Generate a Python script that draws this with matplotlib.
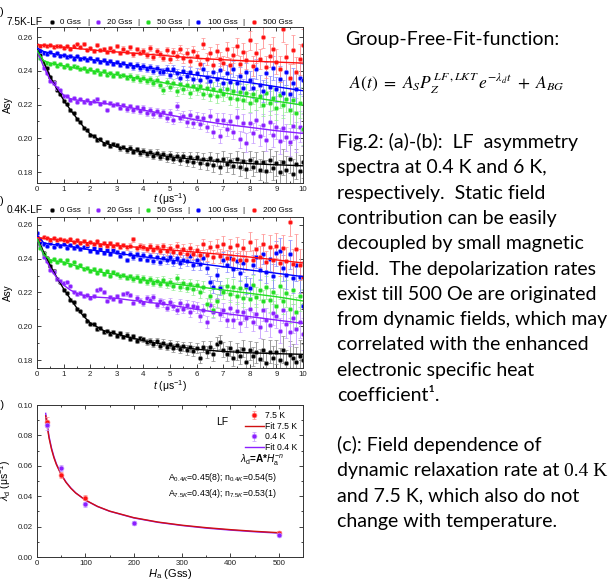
import numpy as np
import matplotlib
matplotlib.use('Agg')
import matplotlib.pyplot as plt
from matplotlib.lines import Line2D
from matplotlib.ticker import MultipleLocator

plt.rcParams['font.family'] = ['Liberation Sans', 'DejaVu Sans']
plt.rcParams['mathtext.fontset'] = 'custom'
plt.rcParams['mathtext.rm'] = 'Liberation Sans'
plt.rcParams['mathtext.it'] = 'Liberation Sans:italic'
plt.rcParams['mathtext.bf'] = 'Liberation Sans:bold'

# ---------------- data ----------------
t = np.arange(81) * 0.125          # time bins, us
t_fit = [0, .25, .5, .75, 1, 1.25, 1.5, 1.75, 2, 2.5, 3, 3.5, 4, 5, 6, 7, 8, 9, 10]

fields_a = ['0 Gss', '20 Gss', '50 Gss', '100 Gss', '500 Gss']
fields_b = ['0 Gss', '20 Gss', '50 Gss', '100 Gss', '200 Gss']

# (a) 7.5 K
a_0 = [.2528, .2495, .2448, .2415, .2362, .2334, .2287, .2263,
       .2221, .2205, .2166, .2150, .2112, .2098, .2061, .2052,
       .2018, .2016, .1988, .1993, .1969, .1979, .1955, .1965,
       .1958, .1940, .1950, .1928, .1945, .1921, .1934, .1912,
       .1925, .1906, .1920, .1898, .1915, .1890, .1905, .1884,
       .1901, .1876, .1895, .1870, .1893, .1866, .1890, .1858,
       .1888, .1852, .1879, .1848, .1885, .1840, .1872, .1830,
       .1880, .1845, .1868, .1835, .1875, .1828, .1865, .1818,
       .1870, .1832, .1858, .1815, .1862, .1805, .1869, .1822,
       .1852, .1798, .1860, .1815, .1876, .1790, .1845, .1808,
       .1860]
a_20 = [.2518, .2475, .2418, .2390, .2340, .2326, .2296, .2285,
        .2248, .2250, .2225, .2238, .2218, .2231, .2214, .2226,
        .2210, .2222, .2232, .2205, .2215, .2170, .2208, .2195,
        .2205, .2180, .2196, .2172, .2190, .2165, .2185, .2160,
        .2178, .2150, .2170, .2142, .2162, .2138, .2155, .2118,
        .2148, .2110, .2190, .2122, .2135, .2098, .2140, .2092,
        .2125, .2085, .2118, .2070, .2135, .2040, .2110, .2012,
        .2110, .2055, .2100, .2040, .2125, .1995, .2090, .1975,
        .2092, .2030, .2108, .2015, .2080, .1990, .2095, .2020,
        .2070, .1985, .2060, .2005, .1978, .2075, .2010, .2068,
        .2050]
a_50 = [.2522, .2478, .2452, .2446, .2438, .2449, .2430, .2441,
        .2425, .2436, .2418, .2431, .2420, .2410, .2415, .2398,
        .2410, .2392, .2403, .2380, .2398, .2378, .2390, .2372,
        .2385, .2368, .2376, .2360, .2372, .2350, .2366, .2345,
        .2360, .2338, .2352, .2330, .2348, .2318, .2285, .2335,
        .2305, .2328, .2278, .2320, .2292, .2315, .2270, .2312,
        .2290, .2308, .2265, .2300, .2258, .2295, .2250, .2288,
        .2262, .2290, .2240, .2282, .2232, .2275, .2225, .2268,
        .2212, .2262, .2225, .2248, .2195, .2270, .2210, .2240,
        .2180, .2255, .2200, .2235, .2170, .2228, .2152, .2210,
        .2058]
a_100 = [.2540, .2520, .2508, .2498, .2512, .2495, .2505, .2488,
         .2495, .2480, .2490, .2472, .2486, .2468, .2478, .2462,
         .2476, .2458, .2470, .2450, .2465, .2448, .2458, .2440,
         .2452, .2436, .2448, .2428, .2440, .2422, .2436, .2415,
         .2430, .2410, .2425, .2402, .2418, .2395, .2395, .2412,
         .2378, .2408, .2385, .2360, .2402, .2372, .2395, .2350,
         .2385, .2345, .2410, .2362, .2340, .2395, .2352, .2405,
         .2330, .2388, .2335, .2410, .2325, .2372, .2300, .2395,
         .2345, .2298, .2410, .2315, .2280, .2385, .2302, .2418,
         .2290, .2352, .2270, .2395, .2260, .2330, .2290, .2355,
         .2345]
a_500 = [.2552, .2548, .2556, .2545, .2553, .2540, .2550, .2546,
         .2538, .2549, .2530, .2545, .2558, .2542, .2560, .2525,
         .2535, .2518, .2556, .2522, .2530, .2512, .2538, .2515,
         .2545, .2505, .2532, .2512, .2540, .2498, .2528, .2508,
         .2520, .2492, .2535, .2485, .2515, .2500, .2478, .2522,
         .2468, .2512, .2490, .2530, .2475, .2505, .2458, .2520,
         .2488, .2440, .2562, .2470, .2505, .2435, .2520, .2468,
         .2448, .2528, .2432, .2495, .2545, .2440, .2512, .2465,
         .2580, .2430, .2505, .2470, .2598, .2425, .2490, .2528,
         .2455, .2410, .2650, .2480, .2360, .2525, .2395, .2470,
         .2555]
fa_0 = [.2530, .2454, .2365, .2292, .2227, .2170, .2118, .2068, .2025, .1975,
        .1950, .1933, .1918, .1890, .1873, .1860, .1850, .1843, .1837]
fa_20 = [.2520, .2424, .2345, .2302, .2256, .2235, .2227, .2222, .2217, .2207,
         .2197, .2182, .2167, .2138, .2108, .2084, .2065, .2045, .2029]
fa_50 = [.2520, .2460, .2445, .2438, .2430, .2422, .2415, .2408, .2402, .2390,
         .2377, .2364, .2350, .2323, .2297, .2270, .2245, .2220, .2197]
fa_100 = [.2535, .2515, .2505, .2497, .2490, .2484, .2479, .2473, .2468, .2456,
          .2445, .2433, .2422, .2398, .2375, .2352, .2330, .2306, .2282]
fa_500 = [.2555, .2551, .2548, .2544, .2540, .2536, .2532, .2529, .2525, .2518,
          .2512, .2506, .2500, .2488, .2475, .2466, .2458, .2452, .2446]

# (b) 0.4 K
b_0 = [.2522, .2488, .2435, .2402, .2355, .2330, .2280, .2262,
       .2215, .2198, .2158, .2141, .2100, .2090, .2065, .2030,
       .2015, .2012, .1985, .1990, .1968, .1975, .1955, .1966,
       .1945, .1958, .1935, .1950, .1926, .1940, .1915, .1928,
       .1922, .1905, .1915, .1898, .1910, .1885, .1902, .1880,
       .1895, .1872, .1890, .1865, .1882, .1860, .1878, .1852,
       .1870, .1815, .1880, .1848, .1875, .1835, .1895, .1908,
       .1862, .1838, .1870, .1810, .1852, .1825, .1868, .1790,
       .1858, .1822, .1845, .1805, .1860, .1782, .1850, .1815,
       .1848, .1798, .1862, .1780, .1830, .1812, .1788, .1825,
       .1800]
b_20 = [.2515, .2470, .2412, .2385, .2335, .2320, .2278, .2270,
        .2255, .2262, .2238, .2205, .2190, .2198, .2178, .2185,
        .2170, .2182, .2212, .2218, .2205, .2152, .2172, .2160,
        .2180, .2150, .2192, .2195, .2185, .2140, .2168, .2152,
        .2135, .2170, .2158, .2175, .2125, .2150, .2138, .2110,
        .2145, .2118, .2098, .2135, .2105, .2128, .2085, .2120,
        .2112, .2060, .2098, .2025, .2125, .2085, .2155, .2070,
        .2098, .2040, .2110, .2035, .2092, .2018, .2085, .2050,
        .2105, .2028, .2070, .1995, .2095, .2040, .2008, .2078,
        .2060, .1975, .2098, .2012, .1968, .2048, .1985, .2025,
        .1955]
b_50 = [.2518, .2462, .2430, .2398, .2388, .2396, .2380, .2392,
        .2376, .2390, .2365, .2378, .2350, .2360, .2340, .2348,
        .2325, .2340, .2318, .2332, .2308, .2325, .2300, .2320,
        .2312, .2295, .2305, .2288, .2296, .2280, .2292, .2270,
        .2285, .2262, .2278, .2258, .2270, .2250, .2275, .2248,
        .2262, .2240, .2285, .2235, .2255, .2228, .2250, .2218,
        .2245, .2200, .2235, .2130, .2180, .2095, .2150, .2230,
        .2205, .2240, .2190, .2235, .2180, .2225, .2168, .2230,
        .2160, .2245, .2172, .2215, .2150, .2230, .2155, .2205,
        .2120, .2240, .2148, .2195, .2105, .2215, .2085, .2180,
        .2125]
b_100 = [.2552, .2498, .2485, .2478, .2492, .2470, .2488, .2475,
         .2486, .2465, .2480, .2462, .2475, .2455, .2468, .2478,
         .2445, .2462, .2438, .2458, .2432, .2450, .2428, .2452,
         .2440, .2418, .2435, .2392, .2430, .2410, .2425, .2400,
         .2420, .2395, .2418, .2388, .2412, .2382, .2405, .2392,
         .2408, .2378, .2402, .2372, .2395, .2385, .2418, .2365,
         .2390, .2368, .2405, .2345, .2262, .2235, .2305, .2228,
         .2395, .2365, .2402, .2340, .2385, .2318, .2372, .2245,
         .2228, .2365, .2408, .2335, .2430, .2320, .2398, .2295,
         .2432, .2448, .2345, .2302, .2425, .2285, .2360, .2290,
         .2118]
b_200 = [.2528, .2518, .2526, .2520, .2512, .2522, .2510, .2518,
         .2512, .2502, .2515, .2498, .2508, .2495, .2505, .2490,
         .2498, .2485, .2502, .2482, .2495, .2478, .2492, .2475,
         .2488, .2470, .2482, .2468, .2478, .2515, .2462, .2475,
         .2470, .2455, .2478, .2452, .2468, .2448, .2475, .2445,
         .2462, .2438, .2475, .2435, .2458, .2430, .2465, .2428,
         .2450, .2422, .2485, .2420, .2468, .2412, .2478, .2418,
         .2490, .2405, .2470, .2398, .2482, .2395, .2462, .2390,
         .2500, .2392, .2458, .2412, .2485, .2380, .2472, .2395,
         .2478, .2375, .2462, .2388, .2618, .2370, .2455, .2365,
         .2290]
fb_0 = [.2525, .2440, .2360, .2288, .2222, .2163, .2108, .2060, .2020, .1975,
        .1953, .1933, .1915, .1885, .1864, .1851, .1843, .1838, .1834]
fb_20 = [.2520, .2420, .2343, .2285, .2244, .2215, .2195, .2183, .2175, .2170,
         .2165, .2155, .2146, .2126, .2100, .2077, .2057, .2037, .2017]
fb_50 = [.2520, .2425, .2393, .2385, .2380, .2368, .2356, .2344, .2333, .2318,
         .2304, .2289, .2274, .2254, .2235, .2215, .2195, .2175, .2150]
fb_100 = [.2540, .2495, .2485, .2482, .2480, .2473, .2466, .2459, .2452, .2442,
          .2432, .2422, .2412, .2393, .2373, .2353, .2333, .2314, .2294]
fb_200 = [.2525, .2521, .2517, .2513, .2508, .2504, .2500, .2497, .2493, .2485,
          .2478, .2471, .2465, .2452, .2438, .2425, .2410, .2393, .2375]

# error bar half-lengths (same statistics for all fields)
asy_err = [.0006, .0006, .0006, .0006, .0006, .0007, .0007, .0007,
           .0007, .0007, .0008, .0008, .0008, .0008, .0009, .0009,
           .0009, .0010, .0010, .0010, .0011, .0011, .0011, .0012,
           .0012, .0013, .0013, .0014, .0014, .0015, .0015, .0016,
           .0017, .0017, .0018, .0019, .0019, .0020, .0021, .0022,
           .0023, .0024, .0025, .0026, .0027, .0028, .0029, .0030,
           .0031, .0032, .0034, .0035, .0036, .0038, .0039, .0041,
           .0042, .0044, .0045, .0047, .0049, .0050, .0052, .0054,
           .0056, .0058, .0060, .0062, .0064, .0066, .0069, .0071,
           .0073, .0076, .0078, .0081, .0083, .0086, .0089, .0092,
           .0095]

# (c) relaxation rate vs field
H_75 = [20, 50, 100, 500]
lam_75 = [0.0888, 0.0537, 0.0390, 0.0158]
lam_75_err = [0.003, 0.002, 0.0015, 0.001]
H_04 = [20, 50, 100, 200, 500]
lam_04 = [0.0866, 0.0586, 0.0346, 0.0224, 0.0147]
lam_04_err = [0.003, 0.002, 0.0015, 0.0012, 0.001]
H_fit = [18, 20, 25, 30, 35, 40, 50, 60, 70, 80, 100, 125, 150, 200, 250, 300, 350, 400, 450, 500]
fit_75 = [.0929, .0879, .0781, .0709, .0653, .0609, .0541, .0491, .0452, .0421,
          .0375, .0333, .0302, .0259, .0230, .0209, .0193, .0180, .0169, .0160]
fit_04 = [.0945, .0892, .0791, .0717, .0660, .0614, .0544, .0493, .0454, .0422,
          .0374, .0332, .0301, .0257, .0228, .0207, .0190, .0177, .0166, .0157]

para1 = ["Fig.2: (a)-(b):  LF  asymmetry",
         "spectra at 0.4 K and 6 K,",
         "respectively.  Static field",
         "contribution can be easily",
         "decoupled by small magnetic",
         "field.  The depolarization rates",
         "exist till 500 Oe are originated",
         "from dynamic fields, which may",
         "correlated with the enhanced",
         "electronic specific heat",
         "coefficient\u00b9."]
para2 = ["(c): Field dependence of",
         "dynamic relaxation rate at ",
         "and 7.5 K, which also do not",
         "change with temperature."]

colors = ['#000000', '#8b1fff', '#22dd22', '#0000ff', '#ff1010']
edges = ['#8a8a8a', '#c69cff', '#99ee99', '#8888ff', '#ff9090']

# ---------------- figure ----------------
W, Hpx = 614, 582
fig = plt.figure(figsize=(6.14, 5.82), dpi=100)


def fx(x):
    return x / W


def fy(y):
    return 1 - y / Hpx


def box(left, top, right, bottom):
    return [fx(left), fy(bottom), (right - left) / W, (bottom - top) / Hpx]


def style(ax):
    ax.tick_params(which='both', direction='in', top=True, right=True,
                   width=0.6, labelsize=5.7, colors='#222222')
    ax.tick_params(which='major', length=3)
    ax.tick_params(which='minor', length=1.6)
    ax.tick_params(axis='y', pad=3)
    ax.tick_params(axis='x', pad=2)
    for s in ax.spines.values():
        s.set_linewidth(0.7)
        s.set_color('#333333')


def spectra(ax, data, fits, ylim, xpad):
    for d, f, c, e in zip(data, fits, colors, edges):
        ax.errorbar(t, d, yerr=asy_err, fmt='o', ms=3.2, mfc=c, mec=e, mew=0.5,
                    ecolor=e, elinewidth=0.6, capsize=1.4, capthick=0.6, zorder=2)
        ax.plot(t_fit, f, color=c, lw=1.0, zorder=3)
    ax.set_xlim(0, 10)
    ax.set_ylim(*ylim)
    ax.xaxis.set_major_locator(MultipleLocator(1))
    ax.xaxis.set_minor_locator(MultipleLocator(0.5))
    ax.yaxis.set_major_locator(MultipleLocator(0.02))
    ax.yaxis.set_minor_locator(MultipleLocator(0.01))
    ax.yaxis.set_major_formatter(matplotlib.ticker.FormatStrFormatter('%.2f'))
    ax.set_ylabel('Asy', fontsize=7.2, labelpad=3)
    ax.set_xlabel(r'$t$ ($\mathrm{\mu}$s$^{-1}$)', fontsize=7.5, labelpad=xpad)
    style(ax)


def header(y, title, fields):
    fig.text(fx(7), fy(y), title, fontsize=7.3, va='center', ha='left')
    dots = [52, 98, 148, 198, 254]
    labs = [60, 107, 157, 208, 263]
    bars = [88, 138, 188, 243]
    for i, (d, l, f) in enumerate(zip(dots, labs, fields)):
        fig.add_artist(Line2D([fx(d)], [fy(y)], transform=fig.transFigure, marker='o',
                              ms=3.2, mfc=colors[i], mec=edges[i], mew=0.4, ls='none'))
        fig.text(fx(l), fy(y), f, fontsize=5.8, va='center', ha='left')
    for b in bars:
        fig.text(fx(b), fy(y), '|', fontsize=6, va='center', ha='center')


ax_a = fig.add_axes(box(37, 27, 303, 183))
spectra(ax_a, [a_0, a_20, a_50, a_100, a_500],
        [fa_0, fa_20, fa_50, fa_100, fa_500], (0.1735, 0.266), -0.8)
header(22, '7.5K-LF', fields_a)

ax_b = fig.add_axes(box(37, 217, 303, 368))
spectra(ax_b, [b_0, b_20, b_50, b_100, b_200],
        [fb_0, fb_20, fb_50, fb_100, fb_200], (0.1753, 0.2647), 0)
header(210, '0.4K-LF', fields_b)

ax_c = fig.add_axes(box(37, 405, 303, 557))
ax_c.errorbar(H_75, lam_75, yerr=lam_75_err, fmt='o', ms=3.5, mfc='#ff1010', mec='#ff8080',
              mew=0.5, ecolor='#ff9090', elinewidth=0.6, capsize=1.4, zorder=3, label='7.5 K')
ax_c.plot(H_fit, fit_75, color='#d01010', lw=1.0, zorder=2, label='Fit 7.5 K')
ax_c.errorbar(H_04, lam_04, yerr=lam_04_err, fmt='o', ms=3.5, mfc='#8b1fff', mec='#c69cff',
              mew=0.5, ecolor='#c69cff', elinewidth=0.6, capsize=1.4, zorder=3, label='0.4 K')
ax_c.plot(H_fit, fit_04, color='#8b1fff', lw=1.0, zorder=1, label='Fit 0.4 K')
ax_c.set_xlim(0, 550)
ax_c.set_ylim(0, 0.10)
ax_c.xaxis.set_major_locator(MultipleLocator(100))
ax_c.xaxis.set_minor_locator(MultipleLocator(50))
ax_c.yaxis.set_major_locator(MultipleLocator(0.02))
ax_c.yaxis.set_minor_locator(MultipleLocator(0.01))
ax_c.yaxis.set_major_formatter(matplotlib.ticker.FormatStrFormatter('%.2f'))
ax_c.set_xlabel(r'$H_\mathrm{a}$ (Gss)', fontsize=8, labelpad=0)
ax_c.set_ylabel(r'$\lambda_\mathrm{d}$ ($\mathrm{\mu}$s$^{-1}$)', fontsize=7.5, labelpad=3)
style(ax_c)
hh, ll = ax_c.get_legend_handles_labels()
order = [2, 0, 3, 1]
ax_c.legend([hh[i] for i in order], [ll[i] for i in order], loc='upper right',
            bbox_to_anchor=(1.0, 1.0), frameon=False, fontsize=6.2, handlelength=2.2,
            handletextpad=0.1, labelspacing=0.2, borderaxespad=0.3)
fig.text(fx(216), fy(422), 'LF', fontsize=7.5, va='center')
fig.text(fx(262), fy(460), r'$\lambda_\mathrm{d}$=A*$H_\mathrm{a}^{-n}$', fontsize=7.2,
         ha='center', va='center', fontweight='bold')
fig.text(fx(168), fy(478), r'A$_{0.4K}$=0.45(8); n$_{0.4K}$=0.54(5)', fontsize=6.3, va='center')
fig.text(fx(168), fy(493), r'A$_{7.5K}$=0.43(4); n$_{7.5K}$=0.53(1)', fontsize=6.3, va='center')

# panel letters, cut off by the left edge
for y, s in [(12, '(a)'), (201, '(b)'), (405, '(c)')]:
    fig.text(fx(4), fy(y), s, fontsize=8, ha='right', va='center')

# ---------------- right-hand text ----------------
tf = ['Lato', 'DejaVu Sans']
fs = 14
fig.text(fx(345), fy(45), 'Group-Free-Fit-function:', fontsize=fs, family=tf, va='baseline')
fig.text(fx(349), fy(89), r'$A(t)\ =\ A_S P_Z^{\,LF\,,LKT}\, e^{-\lambda_d t}\ +\ A_{BG}$',
         fontsize=12.5, math_fontfamily='stix', va='baseline')
base1 = [148 + 25.3 * i for i in range(len(para1))]
for y, s in zip(base1, para1):
    fig.text(fx(337), fy(y), s, fontsize=fs, family=tf, va='baseline')
base2 = [451 + 25.4 * i for i in range(len(para2))]
rend = fig.canvas.get_renderer()
for y, s in zip(base2, para2):
    tx = fig.text(fx(337), fy(y), s, fontsize=fs, family=tf, va='baseline')
    if s.endswith('at '):
        bb = tx.get_window_extent(rend)
        fig.text(bb.x1 / W, fy(y), '0.4 K', fontsize=fs, family=['Liberation Serif'], va='baseline')

fig.savefig('out.png', dpi=100)
